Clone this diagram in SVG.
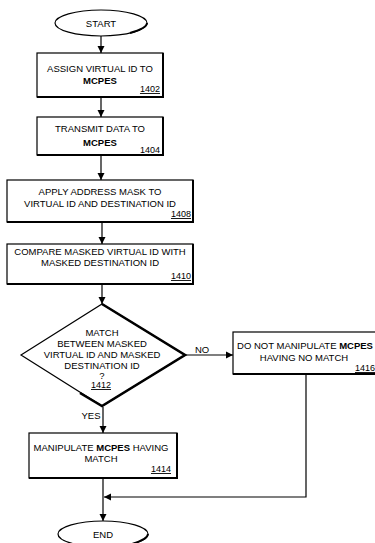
<svg xmlns="http://www.w3.org/2000/svg" width="375" height="543" viewBox="0 0 375 543">
<defs>
<marker id="arr" viewBox="0 0 10 10" refX="10" refY="5" markerWidth="7" markerHeight="8" markerUnits="userSpaceOnUse" orient="auto">
<path d="M0,0 L10,5 L0,10 z" fill="#000"/>
</marker>
</defs>
<style>
.box{fill:#fff;stroke:#000;stroke-width:1.2}
.sh{fill:none;stroke:#000;stroke-width:2}
.t{font-family:"Liberation Sans",Arial,sans-serif;font-size:9.5px;fill:#000;text-anchor:middle}
.n{font-family:"Liberation Sans",Arial,sans-serif;font-size:9px;fill:#000;text-anchor:end;text-decoration:underline}
.b{font-weight:bold}
.c{fill:none;stroke:#000;stroke-width:1.2}
</style>
<rect width="375" height="543" fill="#fff"/>
<g id="start">
<ellipse cx="101" cy="23" rx="46" ry="13" class="box" stroke-width="1.5"/>
<path d="M130,33 Q147,28 147,23" class="sh"/>
<text x="101" y="27" class="t">START</text>
</g>
<g id="n1402">
<rect x="37" y="53" width="126" height="44" class="box"/>
<path d="M37,97 H163 V53" class="sh"/>
<text x="100" y="72" class="t">ASSIGN VIRTUAL ID TO</text>
<text x="100" y="84" class="t b">MCPES</text>
<text x="160" y="92" class="n">1402</text>
</g>
<g id="n1404">
<rect x="37" y="117" width="126" height="38" class="box"/>
<path d="M37,155 H163 V117" class="sh"/>
<text x="100" y="132" class="t">TRANSMIT DATA TO</text>
<text x="100" y="146" class="t b">MCPES</text>
<text x="160" y="153" class="n">1404</text>
</g>
<g id="n1408">
<rect x="7" y="180" width="186" height="42" class="box"/>
<path d="M7,222 H193 V180" class="sh"/>
<text x="100" y="195" class="t">APPLY ADDRESS MASK TO</text>
<text x="100" y="207" class="t">VIRTUAL ID AND DESTINATION ID</text>
<text x="191" y="217" class="n">1408</text>
</g>
<g id="n1410">
<rect x="7" y="244" width="186" height="40" class="box"/>
<path d="M7,284 H193 V244" class="sh"/>
<text x="100" y="255" class="t">COMPARE MASKED VIRTUAL ID WITH</text>
<text x="100" y="266" class="t">MASKED DESTINATION ID</text>
<text x="191" y="279" class="n">1410</text>
</g>
<g id="n1412">
<polygon points="102,304 185,355 102,406 21,355" class="box"/>
<path d="M102,304 L185,355 L102,406 L80,393" fill="none" stroke="#000" stroke-width="2.6"/>
<text x="102" y="336" class="t">MATCH</text>
<text x="102" y="347" class="t">BETWEEN MASKED</text>
<text x="102" y="358" class="t">VIRTUAL ID AND MASKED</text>
<text x="102" y="369" class="t">DESTINATION ID</text>
<text x="102" y="379" class="t">?</text>
<text x="111" y="388" class="n">1412</text>
</g>
<g id="n1416">
<rect x="233" y="332" width="144" height="42" class="box"/>
<path d="M233,374 H377" class="sh"/>
<text x="305" y="349" class="t">DO NOT MANIPULATE <tspan class="b">MCPES</tspan></text>
<text x="304" y="361" class="t">HAVING NO MATCH</text>
<text x="375" y="371" class="n">1416</text>
</g>
<g id="n1414">
<rect x="29" y="433" width="148" height="45" class="box"/>
<path d="M29,478 H177 V433" class="sh"/>
<text x="101" y="451" class="t">MANIPULATE <tspan class="b">MCPES</tspan> HAVING</text>
<text x="101" y="462" class="t">MATCH</text>
<text x="171" y="472" class="n">1414</text>
</g>
<g id="end">
<ellipse cx="103" cy="534" rx="45" ry="13" class="box" stroke-width="1.5"/>
<path d="M132,544 Q148,539 148,534" class="sh"/>
<text x="103" y="538" class="t">END</text>
</g>
<g id="connectors">
<line x1="101" y1="36" x2="101" y2="53" class="c" marker-end="url(#arr)"/>
<line x1="101" y1="97" x2="101" y2="117" class="c" marker-end="url(#arr)"/>
<line x1="101" y1="155" x2="101" y2="180" class="c" marker-end="url(#arr)"/>
<line x1="102" y1="222" x2="102" y2="244" class="c" marker-end="url(#arr)"/>
<line x1="102" y1="284" x2="102" y2="304" class="c" marker-end="url(#arr)"/>
<line x1="186" y1="355" x2="233" y2="355" class="c" marker-end="url(#arr)"/>
<text x="202" y="353" class="t">NO</text>
<line x1="103" y1="407" x2="103" y2="433" class="c" marker-end="url(#arr)"/>
<text x="91" y="419" class="t">YES</text>
<polyline points="306,374 306,497 104,497" class="c" marker-end="url(#arr)"/>
<line x1="103" y1="478" x2="103" y2="521" class="c" marker-end="url(#arr)"/>
</g>
</svg>
